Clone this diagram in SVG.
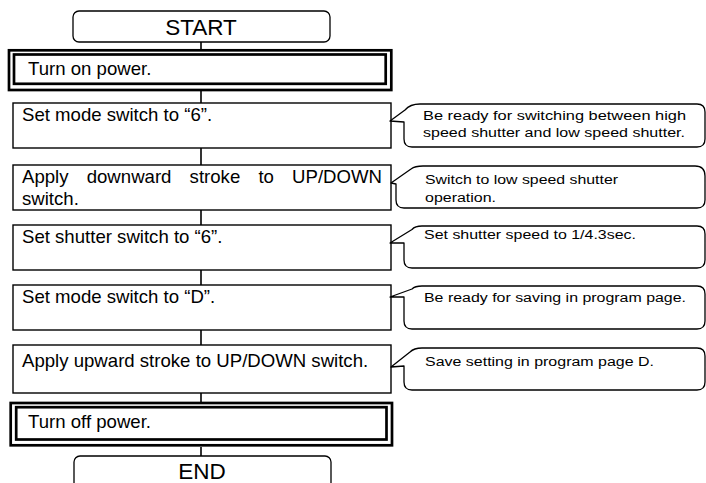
<svg xmlns="http://www.w3.org/2000/svg" width="706" height="483" viewBox="0 0 706 483">
<style>
.box{fill:#fff;stroke:#000;stroke-width:1.4}
.term{fill:#fff;stroke:#000;stroke-width:1.3}
.dbl{fill:#fff;stroke:#000;stroke-width:2.7}
.call{fill:#fff;stroke:#000;stroke-width:1.3;stroke-linejoin:round}
.con{stroke:#000;stroke-width:1.6;fill:none}
.t{font-family:"Liberation Sans",Arial,sans-serif;font-size:18.6px;fill:#000}
.c{font-family:"Liberation Sans",Arial,sans-serif;font-size:12.5px;fill:#000}
.big{font-family:"Liberation Sans",Arial,sans-serif;font-size:22.5px;fill:#000;text-anchor:middle}
</style>
<g id="connectors">
<line class="con" x1="201" y1="42" x2="201" y2="50"/>
<line class="con" x1="201" y1="91" x2="201" y2="103"/>
<line class="con" x1="201" y1="148" x2="201" y2="165"/>
<line class="con" x1="201" y1="210" x2="201" y2="225"/>
<line class="con" x1="201" y1="270" x2="201" y2="285"/>
<line class="con" x1="201" y1="330" x2="201" y2="345"/>
<line class="con" x1="201" y1="393" x2="201" y2="402"/>
<line class="con" x1="201" y1="447" x2="201" y2="456"/>
</g>
<g id="start">
<rect class="term" x="73" y="11" width="257" height="31" rx="6"/>
<text class="big" x="201" y="34.5">START</text>
</g>
<g id="power-on">
<rect class="dbl" x="9" y="50.3" width="382.3" height="39.7"/>
<rect class="dbl" x="14" y="54.5" width="371.7" height="29.3"/>
<text class="t" x="28" y="75">Turn on power.</text>
</g>
<g id="step1">
<rect class="box" x="13" y="103" width="378" height="45"/>
<text class="t" x="22" y="120.5">Set mode switch to “6”.</text>
</g>
<g id="step2">
<rect class="box" x="13" y="165" width="378" height="45"/>
<text class="t" x="22" y="183" style="word-spacing:13px">Apply downward stroke to UP/DOWN</text>
<text class="t" x="22" y="205">switch.</text>
</g>
<g id="step3">
<rect class="box" x="13" y="225" width="378" height="45"/>
<text class="t" x="22" y="242.5">Set shutter switch to “6”.</text>
</g>
<g id="step4">
<rect class="box" x="13" y="285" width="378" height="45"/>
<text class="t" x="22" y="302.5">Set mode switch to “D”.</text>
</g>
<g id="step5">
<rect class="box" x="13" y="345" width="378" height="48"/>
<text class="t" x="22" y="366.5">Apply upward stroke to UP/DOWN switch.</text>
</g>
<g id="power-off">
<rect class="dbl" x="10.7" y="403" width="381.3" height="42.3"/>
<rect class="dbl" x="16.2" y="407.2" width="370.3" height="32.3"/>
<text class="t" x="28" y="427.5">Turn off power.</text>
</g>
<g id="end">
<rect class="term" x="74" y="456" width="257" height="34" rx="6"/>
<text class="big" x="202" y="479">END</text>
</g>
<g id="note1">
<path class="call" d="M390,121 L404,122 L404,139 Q404,147 412,147 L697,147 Q705,147 705,139 L705,112 Q705,104 697,104 L420,104 Q410,104 405,110 Z"/>
<text class="c" x="423" y="119.8" textLength="263" lengthAdjust="spacingAndGlyphs">Be ready for switching between high</text>
<text class="c" x="423" y="137.3" textLength="262" lengthAdjust="spacingAndGlyphs">speed shutter and low speed shutter.</text>
</g>
<g id="note2">
<path class="call" d="M391,183 L396,184 L396,200 Q396,208 404,208 L697,208 Q705,208 705,200 L705,176 Q705,166 695,166 L423,166 Q415,166 411,169 Z"/>
<text class="c" x="425" y="183.8" textLength="193" lengthAdjust="spacingAndGlyphs">Switch to low speed shutter</text>
<text class="c" x="425" y="202.2" textLength="71" lengthAdjust="spacingAndGlyphs">operation.</text>
</g>
<g id="note3">
<path class="call" d="M390,243 L404,243 L404,260 Q404,268 412,268 L697,268 Q705,268 705,260 L705,234 Q705,226 697,226 L422,226 Q415,226 412,229.5 Z"/>
<text class="c" x="424" y="238.5" textLength="212" lengthAdjust="spacingAndGlyphs">Set shutter speed to 1/4.3sec.</text>
</g>
<g id="note4">
<path class="call" d="M390,297 L404,297 L404,321 Q404,329 412,329 L697,329 Q705,329 705,321 L705,294 Q705,286 697,286 L422,286 Q415,286 412,289 Z"/>
<text class="c" x="424" y="301.5" textLength="262" lengthAdjust="spacingAndGlyphs">Be ready for saving in program page.</text>
</g>
<g id="note5">
<path class="call" d="M391,367 L404,366 L404,382 Q404,390 412,390 L697,390 Q705,390 705,382 L705,356 Q705,348 697,348 L422,348 Q414,348 410,352 Z"/>
<text class="c" x="425" y="365.5" textLength="229" lengthAdjust="spacingAndGlyphs">Save setting in program page D.</text>
</g>
</svg>
